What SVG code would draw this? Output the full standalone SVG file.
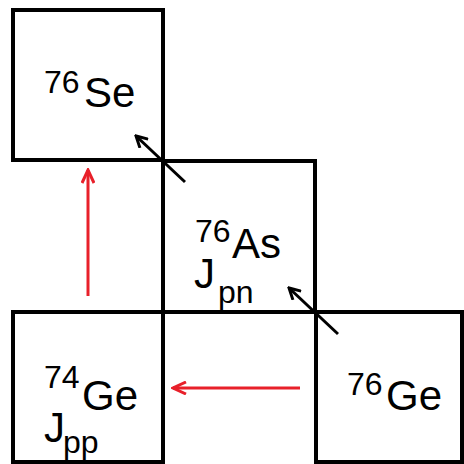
<svg xmlns="http://www.w3.org/2000/svg" width="464" height="464" viewBox="0 0 464 464">
<style>
.box{fill:#fff;stroke:#000;stroke-width:4}
.t{font-family:"Liberation Sans",Arial,sans-serif;fill:#000}
.m{font-size:42px}
.s{font-size:32px}
.blk{stroke:#000;stroke-width:3;fill:none}
.red{stroke:#e8202a;stroke-width:3;fill:none}
</style>
<defs>
<marker id="ab" viewBox="0 0 14 14" refX="12" refY="7" markerWidth="14" markerHeight="14" markerUnits="userSpaceOnUse" orient="auto">
<path d="M1,1 L12,7 L1,13" fill="none" stroke="#000" stroke-width="3"/>
</marker>
<marker id="ar" viewBox="0 0 16 14" refX="14" refY="7" markerWidth="16" markerHeight="14" markerUnits="userSpaceOnUse" orient="auto">
<path d="M1,1 L14,7 L1,13" fill="none" stroke="#e8202a" stroke-width="3"/>
</marker>
</defs>
<g id="se76">
<rect class="box" x="13" y="10" width="150" height="150"/>
<text class="t s" x="44" y="93">76</text>
<text class="t m" x="84" y="107">Se</text>
</g>
<g id="as76">
<rect class="box" x="163" y="161" width="152" height="151"/>
<text class="t s" x="195" y="242">76</text>
<text class="t m" x="232" y="258">As</text>
<text class="t m" x="194" y="288">J</text>
<text class="t s" x="218" y="303">pn</text>
</g>
<g id="ge74">
<rect class="box" x="13" y="312" width="150" height="150"/>
<text class="t s" x="44" y="388">74</text>
<text class="t m" x="82" y="410">Ge</text>
<text class="t m" x="44" y="442">J</text>
<text class="t s" x="63" y="453">pp</text>
</g>
<g id="ge76">
<rect class="box" x="316" y="312" width="146" height="150"/>
<text class="t s" x="347" y="395">76</text>
<text class="t m" x="386" y="410">Ge</text>
</g>
<g id="connectors">
<line class="blk" x1="185" y1="182" x2="136" y2="136" marker-end="url(#ab)"/>
<line class="blk" x1="338" y1="334" x2="289" y2="288" marker-end="url(#ab)"/>
<line class="red" x1="88" y1="296" x2="88" y2="170" marker-end="url(#ar)"/>
<line class="red" x1="300" y1="388" x2="173" y2="388" marker-end="url(#ar)"/>
</g>
</svg>
